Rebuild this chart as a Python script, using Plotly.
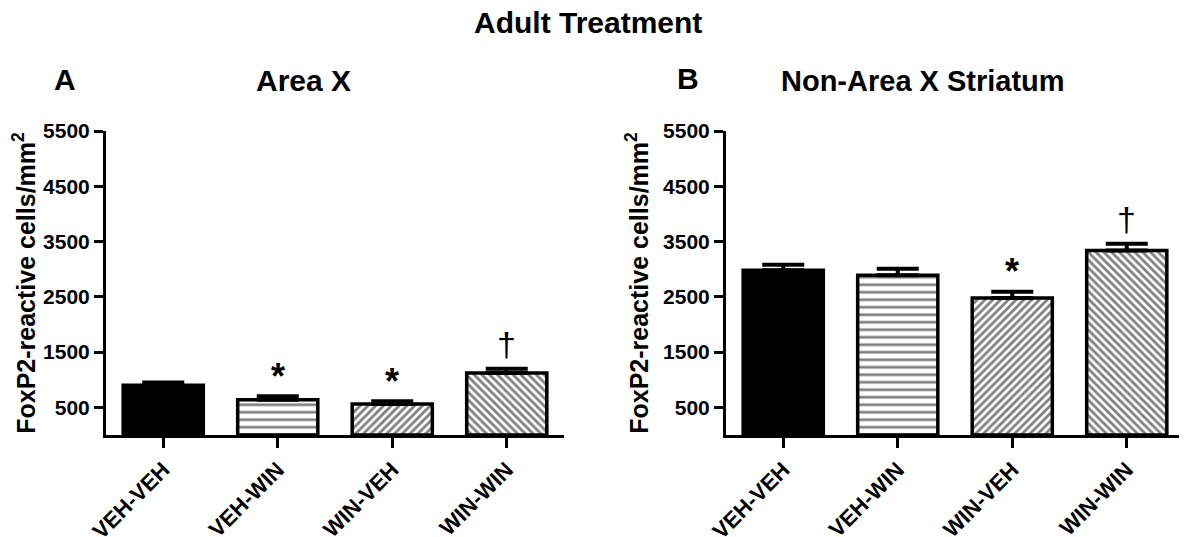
import plotly.graph_objects as go

# page body adds an 8px margin: figure fits inside the 1187x537 window
OFF = 8
W, H = 1187 - OFF, 537 - OFF

groups = ["VEH-VEH", "VEH-WIN", "WIN-VEH", "WIN-WIN"]
areax_mean = [900, 640, 560, 1120]
areax_sem = [50, 60, 50, 80]
striatum_mean = [2980, 2890, 2480, 3340]
striatum_sem = [100, 120, 110, 120]
areax_marks = ["", "*", "*", "†"]
striatum_marks = ["", "", "*", "†"]
y_ticks = [500, 1500, 2500, 3500, 4500, 5500]

FONT = "Liberation Sans, Arial, sans-serif"
shapes = ["", "-", "/", "\\"]
fills = ["black", "white", "white", "white"]
psizes = [8, 7.5, 5.5, 5.5]
psolid = [0.3, 0.36, 0.5, 0.5]


def px_x(p):
    return (p - OFF) / W


def px_y(p):
    return 1 - (p - OFF) / H


fig = go.Figure()

panels = [
    ("x", "y", areax_mean, areax_sem, areax_marks),
    ("x2", "y2", striatum_mean, striatum_sem, striatum_marks),
]

for xa, ya, means, sems, marks in panels:
    for i, g in enumerate(groups):
        fig.add_trace(go.Bar(
            x=[g], y=[means[i]], xaxis=xa, yaxis=ya,
            width=0.7,
            marker=dict(
                color=fills[i],
                line=dict(color="black", width=3.5),
                pattern=dict(shape=shapes[i], fgcolor="black", bgcolor=fills[i],
                             size=psizes[i], solidity=psolid[i]),
            ),
            error_y=dict(type="data", array=[sems[i]], arrayminus=[0], symmetric=False,
                         color="black", thickness=4, width=21),
            showlegend=False,
        ))
        if marks[i]:
            is_star = marks[i] == "*"
            fig.add_annotation(
                x=g, y=means[i] + sems[i], xref=xa, yref=ya,
                text=marks[i], showarrow=False, yanchor="middle",
                yshift=20 if is_star else 25,
                font=dict(family=FONT, size=36 if is_star else 34, color="black",
                          weight="bold" if is_star else "normal"),
            )

axis_common = dict(showline=True, linecolor="black", linewidth=3, ticks="outside",
                   ticklen=10, tickwidth=3, tickcolor="black", showgrid=False,
                   zeroline=False, automargin=False)

xcommon = dict(axis_common, type="category", categoryorder="array", categoryarray=groups,
               range=[-0.5, 3.5], tickangle=-45,
               tickfont=dict(family=FONT, size=22, color="black", weight="bold"))
ycommon = dict(axis_common, range=[0, 5500], tickvals=y_ticks, tickformat="d",
               ticklen=9,
               tickfont=dict(family=FONT, size=21, color="black", weight="bold"),
               title=dict(text="FoxP2-reactive cells/mm<sup>2</sup>", standoff=8,
                          font=dict(family=FONT, size=25, color="black", weight="bold")))

fig.update_layout(
    width=W, height=H,
    margin=dict(l=0, r=0, t=0, b=0, autoexpand=False),
    paper_bgcolor="white", plot_bgcolor="white",
    bargap=0.3,
    xaxis=dict(xcommon, domain=[px_x(106), px_x(564)], anchor="y"),
    yaxis=dict(ycommon, domain=[px_y(435), px_y(131)], anchor="x"),
    xaxis2=dict(xcommon, domain=[px_x(726), px_x(1184)], anchor="y2"),
    yaxis2=dict(ycommon, domain=[px_y(435), px_y(131)], anchor="x2"),
)

titles = [
    ("Adult Treatment", 588, 22, 30),
    ("A", 65, 80, 30),
    ("Area X", 303, 81, 30),
    ("B", 688, 79, 30),
    ("Non-Area X Striatum", 923, 81, 29),
]
for txt, cx, cy, sz in titles:
    fig.add_annotation(
        x=px_x(cx), y=px_y(cy), xref="paper", yref="paper",
        text=txt, showarrow=False, xanchor="center", yanchor="middle",
        font=dict(family=FONT, size=sz, color="black", weight="bold"),
    )

fig.write_html("out.html")
